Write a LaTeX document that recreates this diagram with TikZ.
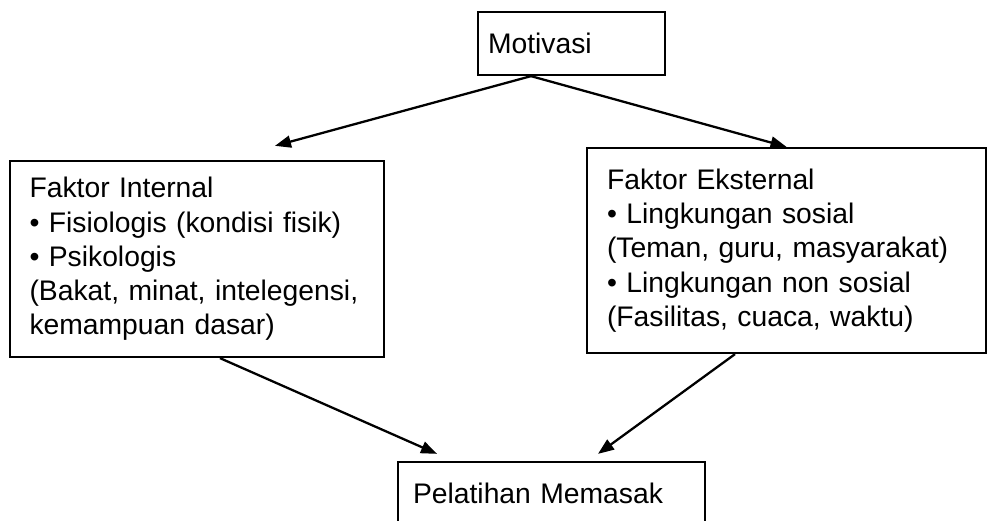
\documentclass[tikz,border=0pt]{standalone}
\usepackage{fontspec}
\setmainfont{Liberation Sans}
\usetikzlibrary{arrows.meta}

\tikzset{
  box/.style={draw, line width=1.3pt, align=left, inner xsep=0.2cm,
    font=\fontsize{16.1}{19.5}\selectfont},
  link/.style={line width=1.3pt, -{Triangle[length=0.32cm,width=0.24cm]}}
}

\begin{document}
\begin{tikzpicture}
\useasboundingbox (0,0) rectangle (19.76,10.42);

% Motivasi
\node[box, minimum width=3.74cm, minimum height=1.26cm, text width=3.34cm] (moti) at (11.43,9.55) {Motivasi};

% Faktor
\node[box, inner xsep=0.39cm, text width=6.7cm, minimum height=3.92cm] (lbox) at (3.94,5.24)
  {Faktor Internal\\
   \textbullet~Fisiologis (kondisi fisik)\\
   \textbullet~Psikologis\\
   (Bakat, minat, intelegensi,\\
   kemampuan dasar)};
\node[box, inner xsep=0.4cm, text width=7.18cm, minimum height=4.1cm] (rbox) at (15.73,5.41)
  {Faktor Eksternal\\
   \textbullet~Lingkungan sosial\\
   (Teman, guru, masyarakat)\\
   \textbullet~Lingkungan non sosial\\
   (Fasilitas, cuaca, waktu)};

% Pelatihan
\node[box, inner xsep=0.3cm, minimum height=1.26cm, text width=5.54cm] (pel) at (11.03,0.55) {Pelatihan Memasak};

\coordinate (fork) at ([xshift=-0.81cm]moti.south);
\draw[link] (fork) -- ([xshift=1.56cm,yshift=0.28cm]lbox.north);
\draw[link] (fork) -- (rbox.north);
\draw[link] ([xshift=0.46cm]lbox.south) -- ([xshift=-2.29cm,yshift=0.14cm]pel.north);
\draw[link] ([xshift=-1.03cm]rbox.south) -- ([xshift=0.93cm,yshift=0.14cm]pel.north);

\end{tikzpicture}
\end{document}
